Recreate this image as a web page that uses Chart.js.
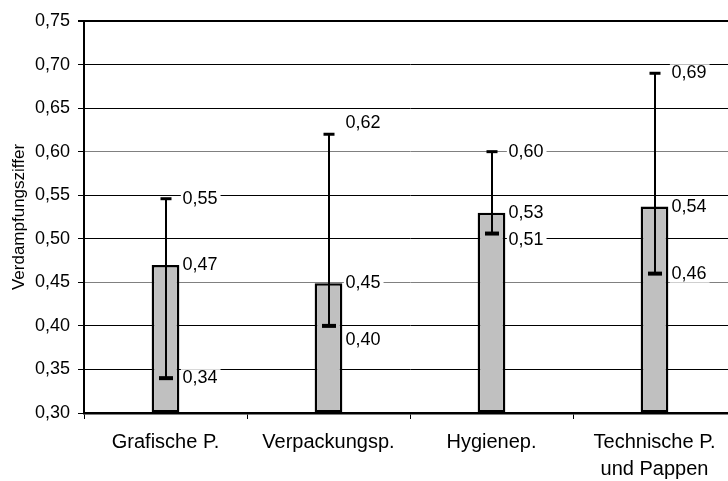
<!DOCTYPE html>
<html>
<head>
<meta charset="utf-8">
<script src="https://cdn.jsdelivr.net/npm/chart.js@4"></script>
<style>
  body { margin: 0; background: #fff; overflow: hidden; }
  #wrap { width: 740px; height: 481px; }
</style>
</head>
<body>
<div id="wrap"><canvas id="chart"></canvas></div>
<script>
const categories = [['Grafische P.'], ['Verpackungsp.'], ['Hygienep.'], ['Technische P.', 'und Pappen']];
const means = [0.470, 0.449, 0.530, 0.537];
const lows = [0.340, 0.400, 0.506, 0.460];
const highs = [0.546, 0.620, 0.600, 0.690];
const yMin = 0.30;
const yMax = 0.75;
const yStep = 0.05;

const FONT = '"Liberation Sans", Arial, sans-serif';

// small vertical nudges for labels that would collide (px)
const highShift = [0, -11, 0, 0];
const lowShift = [0, 14, 6, 0];

const fmt = v => v.toFixed(2).replace('.', ',');
const key = v => Math.round(v * 100);

const errorBars = {
  id: 'errorBars',
  afterDatasetsDraw(chart) {
    const ctx = chart.ctx;
    const y = chart.scales.y;
    const bars = chart.getDatasetMeta(0).data;
    ctx.save();
    ctx.strokeStyle = '#000';
    bars.forEach((bar, i) => {
      const x = Math.round(bar.x);
      const yLo = y.getPixelForValue(lows[i]);
      const yHi = y.getPixelForValue(highs[i]);
      ctx.lineWidth = 2;
      ctx.beginPath();
      ctx.moveTo(x, yLo);
      ctx.lineTo(x, yHi);
      ctx.stroke();
      // caps: lower one a bit heavier, like the original
      ctx.lineWidth = 4;
      ctx.beginPath();
      ctx.moveTo(x - 7, yLo);
      ctx.lineTo(x + 7, yLo);
      ctx.stroke();
      ctx.lineWidth = 3;
      ctx.beginPath();
      ctx.moveTo(x - 5.5, yHi);
      ctx.lineTo(x + 5.5, yHi);
      ctx.stroke();
    });

    ctx.font = '18px ' + FONT;
    ctx.textBaseline = 'middle';
    bars.forEach((bar, i) => {
      const items = [[highs[i], highShift[i]], [means[i], 0], [lows[i], lowShift[i]]];
      items.forEach(([v, dy]) => {
        const txt = fmt(v);
        const tx = bar.x + 17;
        const ty = y.getPixelForValue(v) + dy;
        const w = ctx.measureText(txt).width;
        const left = Math.max(tx - 4, bar.x + bar.width / 2 + 1.5);
        ctx.fillStyle = '#fff';
        ctx.fillRect(left, ty - 9, tx + w + 3 - left, 18);
        ctx.fillStyle = '#000';
        ctx.fillText(txt, tx, ty);
      });
    });
    ctx.restore();
  }
};

new Chart(document.getElementById('chart'), {
  type: 'bar',
  data: {
    labels: categories,
    datasets: [{
      data: means,
      base: yMin,
      backgroundColor: '#c0c0c0',
      borderColor: '#000',
      borderWidth: 2.5,
      borderSkipped: false,
      categoryPercentage: 1,
      barPercentage: 0.17
    }]
  },
  options: {
    responsive: true,
    maintainAspectRatio: false,
    devicePixelRatio: 1,
    animation: false,
    layout: { padding: { top: 21, right: 4, left: 0, bottom: 0 } },
    plugins: {
      legend: { display: false },
      tooltip: { enabled: false }
    },
    scales: {
      x: {
        grid: {
          offset: true,
          drawOnChartArea: false,
          drawTicks: true,
          tickLength: 6,
          color: '#000',
          lineWidth: 1
        },
        border: { display: true, color: '#000', width: 2.5 },
        ticks: {
          color: '#000',
          font: { family: FONT, size: 20, lineHeight: 1.35 },
          padding: 10,
          maxRotation: 0,
          autoSkip: false
        },
        afterFit: s => { s.height = 68; }
      },
      y: {
        min: yMin,
        max: yMax,
        ticks: {
          stepSize: yStep,
          color: '#000',
          font: { family: FONT, size: 18 },
          padding: 8,
          callback: v => fmt(v)
        },
        grid: {
          color: c => (key(c.tick.value) === 60 || key(c.tick.value) === 45) ? '#808080' : '#000',
          lineWidth: c => key(c.tick.value) === 75 ? 2 : 1,
          tickLength: 6,
          tickColor: '#000'
        },
        border: { display: true, color: '#000', width: 2 },
        title: {
          display: true,
          text: 'Verdampfungsziffer',
          color: '#000',
          font: { family: FONT, size: 17 },
          padding: { top: 9, bottom: 0 }
        },
        afterFit: s => { s.width = 84; }
      }
    }
  },
  plugins: [errorBars]
});
</script>
</body>
</html>
